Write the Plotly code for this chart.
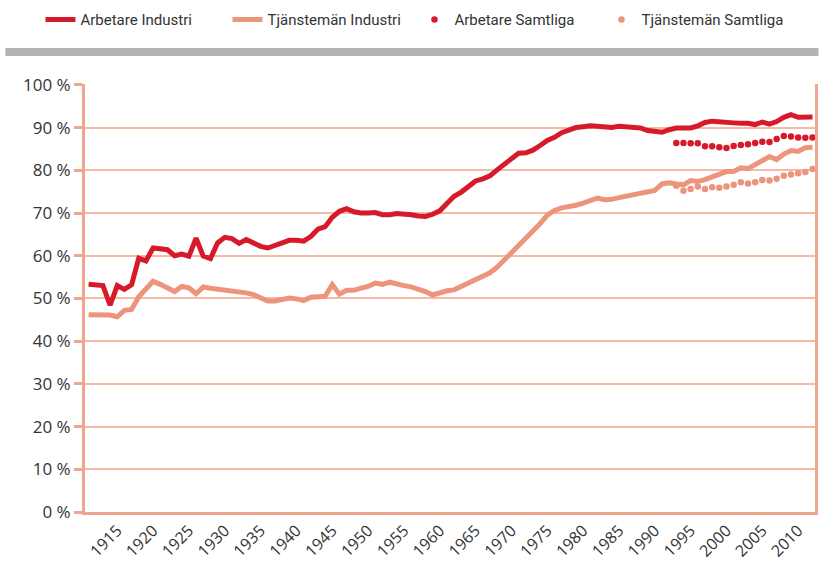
import plotly.graph_objects as go

years_ind = list(range(1911, 2013))
arbetare_industri = [
    53.3, 53.2, 53.0, 48.4, 53.0, 52.1, 53.2, 59.4, 58.8, 61.8,
    61.6, 61.4, 60.0, 60.4, 59.9, 64.1, 59.9, 59.3, 63.0, 64.3,
    64.0, 62.9, 63.8, 63.0, 62.2, 61.8, 62.4, 62.9, 63.6, 63.6,
    63.4, 64.5, 66.2, 66.8, 69.0, 70.4, 71.0, 70.3, 70.0, 70.0,
    70.1, 69.6, 69.6, 69.9, 69.8, 69.6, 69.3, 69.2, 69.7, 70.5,
    72.2, 73.9, 74.9, 76.3, 77.5, 78.0, 78.7, 80.1, 81.4, 83.0,
    84.0, 84.1, 84.7, 85.8, 87.0, 87.7, 88.8, 89.4, 90.0, 90.2,
    90.4, 90.3, 90.1, 90.0, 90.3, 90.1, 89.9, 89.9, 89.3, 89.2,
    88.9, 89.5, 89.9, 89.9, 89.9, 90.4, 91.2, 91.5, 91.3, 91.2,
    91.1, 91.0, 91.0, 90.7, 91.3, 90.8, 91.4, 92.4, 93.0, 92.4,
    92.4, 92.5,
]
tjansteman_industri = [
    46.2, 46.2, 46.3, 46.1, 45.7, 47.2, 47.4, 50.4, 52.2, 54.0,
    53.3, 52.5, 51.6, 52.8, 52.5, 51.1, 52.7, 52.4, 52.2, 51.9,
    51.8, 51.6, 51.3, 50.9, 50.3, 49.4, 49.4, 49.8, 50.1, 49.9,
    49.5, 50.3, 50.4, 50.5, 53.2, 51.0, 51.9, 51.9, 52.4, 52.8,
    53.6, 53.3, 53.8, 53.3, 53.0, 52.7, 52.2, 51.6, 50.8, 51.4,
    51.8, 52.0, 52.8, 53.6, 54.4, 55.5, 56.0, 57.3, 59.0, 60.8,
    62.4, 63.8, 65.5, 67.5, 69.5, 70.6, 71.2, 71.4, 71.8, 72.3,
    72.8, 73.5, 73.1, 73.2, 73.6, 73.9, 74.2, 74.6, 75.0, 75.3,
    76.8, 77.1, 76.8, 76.6, 77.6, 77.4, 77.8, 78.5, 79.1, 79.7,
    79.7, 80.6, 80.4, 81.4, 82.3, 83.2, 82.5, 83.8, 84.6, 84.4,
    85.3, 85.4,
]
years_samt = list(range(1993, 2013))
arbetare_samtliga = [
    86.4, 86.4, 86.3, 86.3, 85.6, 85.6, 85.4, 85.2, 85.7, 85.9,
    86.1, 86.4, 86.7, 86.6, 87.3, 88.0, 87.9, 87.7, 87.6, 87.7,
]
tjansteman_samtliga = [
    76.4, 75.2, 75.6, 76.2, 75.6, 76.0, 75.9, 76.2, 76.6, 77.2,
    76.9, 77.2, 77.7, 77.6, 78.0, 78.7, 79.0, 79.3, 79.6, 80.3,
]
x_tick_years = list(range(1915, 2011, 5))
y_tick_vals = list(range(0, 101, 10))
y_tick_text = [f"{v} %" for v in y_tick_vals]

RED = "#D71A2A"
SALMON = "#EC957C"
AXIS = "#F0A58F"
GRID = "#F5BBA8"

fig = go.Figure()
fig.add_trace(go.Scatter(x=years_ind, y=arbetare_industri, mode="lines",
                         name="Arbetare Industri", line=dict(color=RED, width=5)))
fig.add_trace(go.Scatter(x=years_ind, y=tjansteman_industri, mode="lines",
                         name="Tjänstemän Industri", line=dict(color=SALMON, width=5)))
fig.add_trace(go.Scatter(x=years_samt, y=arbetare_samtliga, mode="markers",
                         name="Arbetare Samtliga", marker=dict(color=RED, size=6.5)))
fig.add_trace(go.Scatter(x=years_samt, y=tjansteman_samtliga, mode="markers",
                         name="Tjänstemän Samtliga", marker=dict(color=SALMON, size=6.5)))

fig.update_layout(
    width=819, height=563,
    margin=dict(l=85, r=3.5, t=84, b=51),
    paper_bgcolor="white", plot_bgcolor="white",
    font=dict(family="Open Sans, Lato, sans-serif", color="#333333"),
    legend=dict(orientation="h", x=-0.061, xanchor="left", y=1.15, yanchor="middle",
                font=dict(family="Roboto, sans-serif", size=15, color="#333333"),
                entrywidth=142, entrywidthmode="pixels", tracegroupgap=0),
    showlegend=True,
    shapes=[dict(type="rect", xref="paper", yref="paper",
                 x0=-0.109, x1=1.0048, y0=1.0655, y1=1.0841,
                 fillcolor="#B4B4B8", line=dict(width=0))],
)
fig.update_xaxes(range=[1910.5, 2012.35], tickmode="array", tickvals=x_tick_years,
                 ticktext=[str(v) for v in x_tick_years], tickangle=-45,
                 tickfont=dict(size=16, color="#333333"), automargin=False,
                 showgrid=False, zeroline=False, showline=True, linecolor=AXIS, linewidth=3,
                 ticks="")
fig.update_yaxes(range=[0, 100.2], tickmode="array", tickvals=y_tick_vals, ticktext=y_tick_text,
                 tickfont=dict(size=17, color="#333333"), automargin=False,
                 showgrid=True, gridcolor=GRID, gridwidth=1.5, zeroline=False,
                 showline=True, linecolor=AXIS, linewidth=3, mirror=True,
                 ticks="outside", ticklen=8, tickwidth=3, tickcolor=AXIS)

fig.write_html("out.html", config={"displayModeBar": False},
               post_script="document.body.style.margin='0';")
